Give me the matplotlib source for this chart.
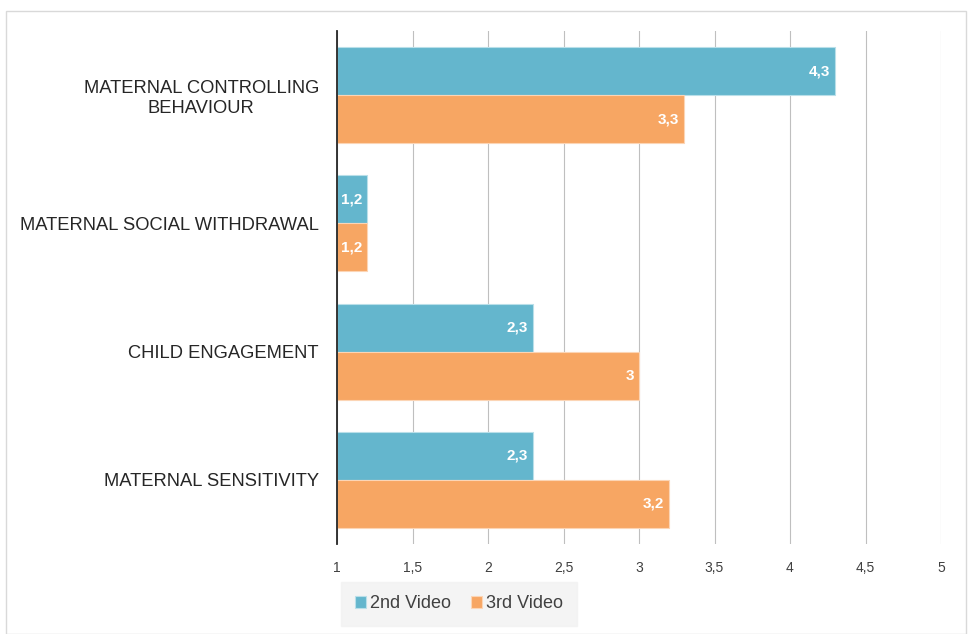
import matplotlib.pyplot as plt
import numpy as np
from matplotlib.patches import Rectangle

categories = ['MATERNAL SENSITIVITY', 'CHILD ENGAGEMENT',
              'MATERNAL SOCIAL WITHDRAWAL', 'MATERNAL CONTROLLING\nBEHAVIOUR']
video2 = [2.3, 2.3, 1.2, 4.3]
video3 = [3.2, 3.0, 1.2, 3.3]
xticks = [1, 1.5, 2, 2.5, 3, 3.5, 4, 4.5, 5]
xticklabels = ['1', '1,5', '2', '2,5', '3', '3,5', '4', '4,5', '5']

blue = '#64B6CD'
orange = '#F7A663'

plt.rcParams['font.family'] = ['Liberation Sans', 'DejaVu Sans']

fig = plt.figure(figsize=(9.69, 6.34), dpi=100)
fig.patches.append(Rectangle((6 / 969, 0), 960 / 969, 623 / 634, transform=fig.transFigure,
                             fill=False, edgecolor='#d9d9d9', linewidth=1))
ax = fig.add_axes([337 / 969, 90 / 634, 604 / 969, 513 / 634])

y = np.arange(len(categories))
h = 0.375
b2 = ax.barh(y + h / 2, [v - 1 for v in video2], h, left=1, color=blue, edgecolor='#b9dfe9', linewidth=0.8)
b3 = ax.barh(y - h / 2, [v - 1 for v in video3], h, left=1, color=orange, edgecolor='#fcd5b5', linewidth=0.8)

for bars, vals in ((b2, video2), (b3, video3)):
    for bar, v in zip(bars, vals):
        txt = ('%g' % v).replace('.', ',')
        ax.text(v - 0.035, bar.get_y() + bar.get_height() / 2, txt, ha='right', va='center',
                color='white', fontsize=11, fontweight='bold')

ax.set_xlim(1, 5)
ax.set_ylim(-0.5, 3.5)
ax.set_xticks(xticks)
ax.set_xticklabels(xticklabels, color='#404040', fontsize=10)
ax.set_yticks(y)
ax.set_yticklabels(categories, fontsize=13.2, color='#262626', linespacing=1.2,
                   multialignment='center')
ax.tick_params(axis='y', length=0, pad=13)
ax.tick_params(axis='x', length=0, pad=12)
ax.grid(axis='x', color='#bfbfbf', linewidth=0.8)
ax.set_axisbelow(True)
for s in ('top', 'right', 'bottom'):
    ax.spines[s].set_visible(False)
ax.spines['left'].set_color('#262626')
ax.spines['left'].set_linewidth(1.3)

leg = fig.legend([b2, b3], ['2nd Video', '3rd Video'], loc='center', bbox_to_anchor=(459 / 969, 30 / 634),
                 ncol=2, frameon=True, handlelength=0.6, handleheight=0.6,
                 handletextpad=0.25, columnspacing=1.1, borderpad=0.45,
                 prop={'size': 13})
leg.get_frame().set_facecolor('#f2f2f2')
leg.get_frame().set_edgecolor('#f2f2f2')
leg.get_frame().set_boxstyle('square')
for t in leg.get_texts():
    t.set_color('#404040')

fig.savefig('out.png', dpi=100)
